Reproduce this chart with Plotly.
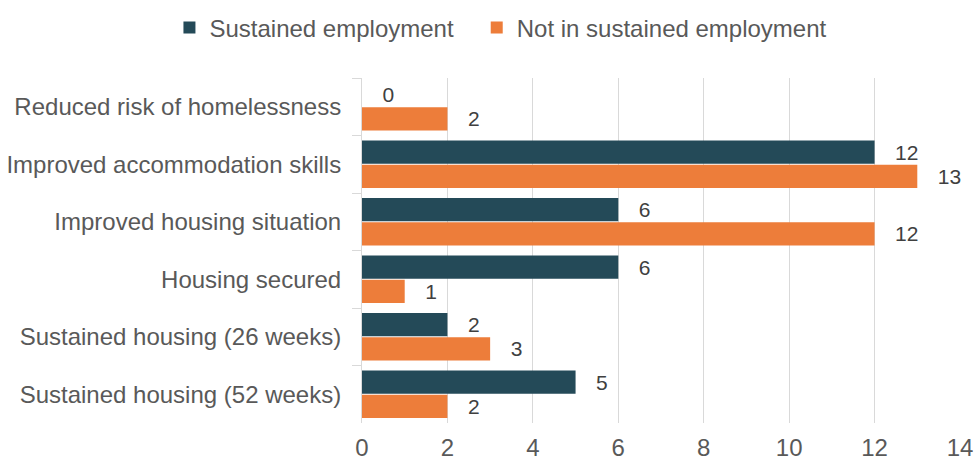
import plotly.graph_objects as go

categories = [
    "Reduced risk of homelessness",
    "Improved accommodation skills",
    "Improved housing situation",
    "Housing secured",
    "Sustained housing (26 weeks)",
    "Sustained housing (52 weeks)",
]
sustained = [0, 12, 6, 6, 2, 5]
not_sustained = [2, 13, 12, 1, 3, 2]
series_names = ["Sustained employment", "Not in sustained employment"]
x_ticks = [0, 2, 4, 6, 8, 10, 12, 14]

dark = "#244A58"
orange = "#ED7D3A"
FONT = "Liberation Sans, Arial"

fig = go.Figure()
for name, vals, col, pad in [(series_names[0], sustained, dark, "&nbsp;&nbsp;&#8201;"),
                             (series_names[1], not_sustained, orange, "")]:
    fig.add_trace(go.Bar(
        y=categories, x=vals, orientation="h", name=name + pad,
        marker=dict(color=col, line=dict(width=0)),
        text=["&nbsp;&nbsp;&nbsp;" + str(v) for v in vals], textposition="outside",
        textfont=dict(size=21, color="#404040", family=FONT),
        cliponaxis=False,
    ))

fig.update_layout(
    width=976, height=463,
    margin=dict(l=362, r=16, t=78, b=40, autoexpand=False),
    barmode="group", bargap=0.16, bargroupgap=0.04,
    plot_bgcolor="white", paper_bgcolor="white",
    font=dict(family=FONT, size=24, color="#595959"),
    legend=dict(orientation="h", x=-0.322, xanchor="left", xref="paper",
                y=1.145, yanchor="middle", yref="paper",
                font=dict(size=24, color="#595959"), itemwidth=30,
                traceorder="normal"),
    showlegend=True,
)
fig.update_xaxes(
    range=[0, 14], tickvals=x_ticks, showgrid=True, gridcolor="#D9D9D9", gridwidth=1,
    zeroline=False, showline=False, ticks="", tickfont=dict(size=24, color="#595959"),
    automargin=False, ticklabelstandoff=8, ticklabeloverflow="allow",
)
fig.update_yaxes(
    autorange="reversed", showline=True, linecolor="#D9D9D9", linewidth=1,
    ticks="outside", tickson="boundaries", ticklen=9, tickcolor="#D9D9D9",
    showgrid=False, tickfont=dict(size=24, color="#595959"), ticklabelstandoff=15,
    automargin=False,
)

fig.write_html("out.html", config={"displayModeBar": False},
               post_script="document.body.style.margin='0';document.body.style.overflow='hidden';")
